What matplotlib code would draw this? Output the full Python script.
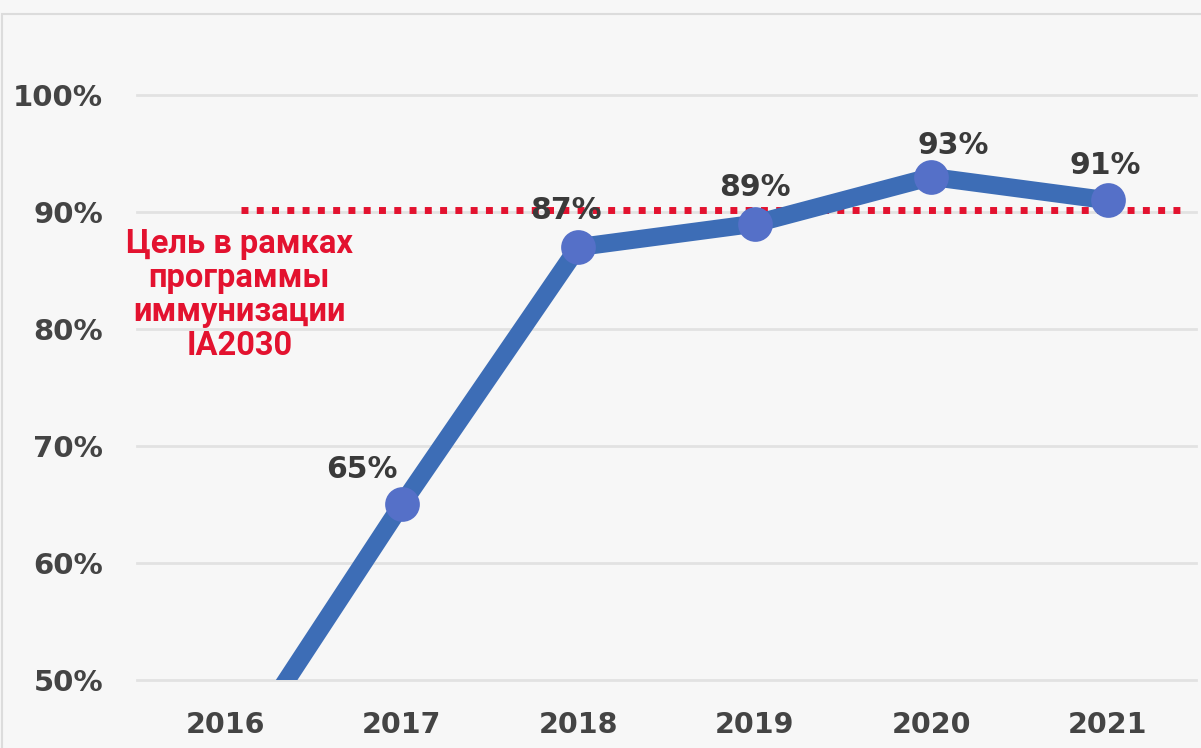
import matplotlib
matplotlib.use("Agg")
import matplotlib.pyplot as plt
from matplotlib.patches import Rectangle

years = [2016, 2017, 2018, 2019, 2020, 2021]
values = [42, 65, 87, 89, 93, 91]
labels = ["", "65%", "87%", "89%", "93%", "91%"]
yticks = [50, 60, 70, 80, 90, 100]
ytick_labels = ["50%", "60%", "70%", "80%", "90%", "100%"]
target = 90
target_text = "Цель в рамках\nпрограммы\nиммунизации\nIA2030"

W, H = 1201, 748
fig = plt.figure(figsize=(W / 100, H / 100), dpi=100)
bg = "#f7f7f7"
fig.patch.set_facecolor(bg)

# outer frame lines (top and left)
fig.add_artist(Rectangle((2 / W, -0.1), 1.2, 1.1 - 14 / H, transform=fig.transFigure,
                         fill=False, edgecolor="#dcdcdc", linewidth=1.5))

ax = fig.add_axes([137 / W, (H - 680) / H, (1196 - 137) / W, (680 - 36.5) / H])
ax.set_facecolor(bg)
ax.set_xlim(2015.5, 2021.5)
ax.set_ylim(50, 105)
for s in ax.spines.values():
    s.set_visible(False)

for y in yticks:
    ax.axhline(y, color="#e2e2e2", linewidth=2, zorder=1, clip_on=False)

ax.set_yticks(yticks)
ax.set_yticklabels(ytick_labels)
ax.set_xticks(years)
ax.set_xticklabels([str(y) for y in years])
ax.tick_params(length=0, colors="#444444")
ax.tick_params(axis="y", pad=24.5, labelsize=21)
ax.tick_params(axis="x", pad=22, labelsize=20.5)
for t in ax.get_xticklabels() + ax.get_yticklabels():
    t.set_fontweight("heavy")
    t.set_family("DejaVu Sans")

# target dotted line
ax.plot([2016.09, 2021.42], [target + 0.2, target + 0.2], color="#e3122f",
        linewidth=5, linestyle=(0, (1, 1.2)), zorder=3, solid_capstyle="butt")

ax.plot(years, values, color="#3d6db6", linewidth=13, zorder=4, solid_capstyle="butt")
ax.plot(years[1:], values[1:], "o", color="#5570c8", markersize=25, zorder=5,
        markeredgewidth=0)

offsets = [(0, 0), (-40, 20), (-12, 22), (0, 22), (22, 17), (-3, 20)]
for x, v, lab, off in zip(years, values, labels, offsets):
    if lab:
        ax.annotate(lab, (x, v), xytext=off, textcoords="offset pixels",
                    ha="center", va="bottom", fontsize=21.5, fontweight="heavy",
                    color="#3a3a3a", family="DejaVu Sans", zorder=6)

ax.text(2016.08, 82.9, target_text, ha="center", va="center", fontsize=23.5,
        fontweight="bold", color="#e3122f", family="Roboto",
        linespacing=1.08, zorder=6)

fig.savefig("out.png", dpi=100, facecolor=bg)
